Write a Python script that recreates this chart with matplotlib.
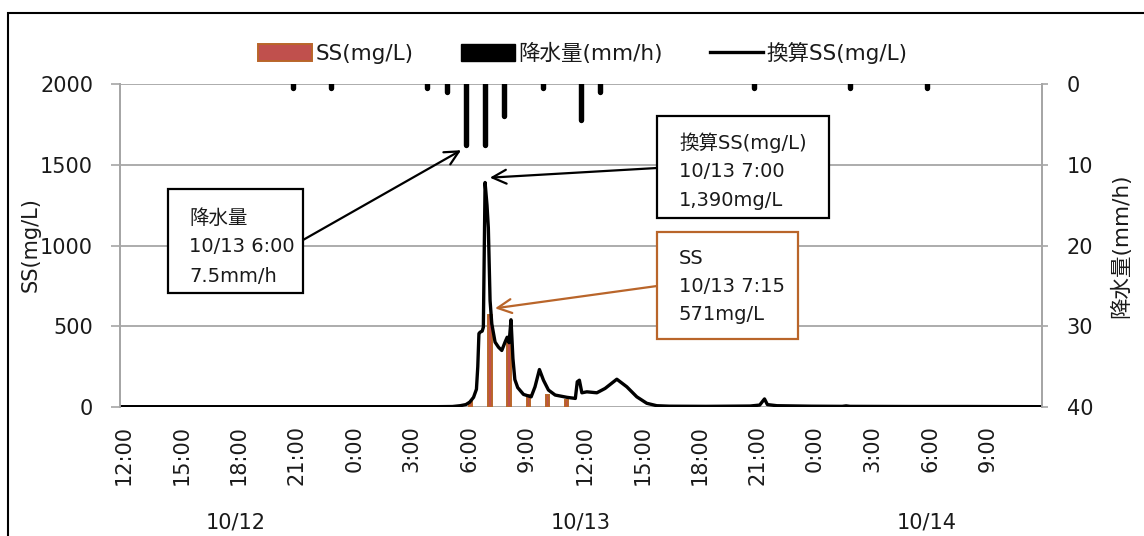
import matplotlib
matplotlib.use('Agg')
import matplotlib.pyplot as plt
from matplotlib.patches import Rectangle, Patch
from matplotlib.transforms import ScaledTranslation, blended_transform_factory

plt.rcParams['font.family'] = ['DejaVu Sans', 'Noto Sans CJK JP']

# ---------------- data (hours after 10/12 12:00) ----------------
tick_hours = list(range(0, 46, 3))
tick_labels = ['12:00', '15:00', '18:00', '21:00', '0:00', '3:00', '6:00', '9:00',
               '12:00', '15:00', '18:00', '21:00', '0:00', '3:00', '6:00', '9:00']
date_labels = ['10/12', '10/13', '10/14']
date_label_hours = [6, 24, 42]

rain_hours = [9, 11, 16, 17, 18, 19, 20, 22, 24, 25, 33, 38, 42]
rain_mm = [0.5, 0.5, 0.5, 1.0, 7.5, 7.5, 4.0, 0.5, 4.5, 1.0, 0.5, 0.5, 0.5]

ss_hours = [18.25, 19.25, 20.25, 21.25, 22.25, 23.25]
ss_mgL = [30, 571, 400, 72, 75, 45]

conv_hours = [0, 16.5, 17.3, 17.7, 18.0, 18.2, 18.4, 18.55, 18.62, 18.68, 18.74, 18.85,
              18.91, 19.0, 19.1, 19.17, 19.26, 19.35, 19.52, 19.7, 19.87, 20.04, 20.15,
              20.25, 20.35, 20.45, 20.55, 20.7, 21.0, 21.4, 21.6, 21.83, 22.04, 22.3,
              22.65, 23.26, 23.7, 23.8, 23.91, 24.04, 24.3, 24.82, 25.25, 25.86, 26.38,
              26.9, 27.42, 27.94, 28.6, 30.5, 32.8, 33.3, 33.45, 33.55, 33.7, 34.2, 36.0,
              37.6, 37.8, 38.0, 41.0, 44.0, 48.0]
conv_mgL = [2, 2, 3, 8, 15, 30, 60, 110, 250, 455, 463, 470,
            494, 1390, 1250, 1109, 658, 515, 402, 370, 350, 402, 432,
            398, 540, 300, 170, 120, 78, 63, 125, 232, 166, 105,
            74, 60, 53, 156, 166, 88, 94, 88, 115, 172, 125,
            63, 23, 8, 5, 4, 6, 12, 35, 50, 15, 8, 5,
            4, 7, 4, 3, 3, 2]

# ---------------- style ----------------
GRID = '#A6A6A6'
TEXT = '#1A1A1A'
SS_FACE = '#C0504D'
SS_EDGE = '#B9652A'
FS = 15

W, H = 1144, 536
fig = plt.figure(figsize=(W / 100, H / 100), dpi=100)


def fx(x):
    return x / W


def fy(y):
    return 1 - y / H


ax = fig.add_axes([fx(120.2), fy(407), fx(1042) - fx(120.2), fy(84) - fy(407)])
ax2 = ax.twinx()

# SS bars and converted SS line
ss_bars = ax.bar(ss_hours, ss_mgL, width=0.17, color=SS_FACE, edgecolor=SS_EDGE,
                 linewidth=1.4, zorder=2)
conv_line, = ax.plot(conv_hours, conv_mgL, color='black', lw=2.4, zorder=3,
                     solid_joinstyle='round')
# rainfall bars (inverted right axis), drawn as thick rounded strokes
rain = ax2.vlines(rain_hours, 0, rain_mm, colors='black', lw=3.9, zorder=2)
rain.set_capstyle('round')
rain_handle = Patch(facecolor='black', edgecolor='black')

ax.set_xlim(0, 48)
ax.set_ylim(0, 2000)
ax.set_yticks(range(0, 2001, 500))
ax.yaxis.grid(True, color=GRID, lw=1.3)
ax.set_axisbelow(True)
ax.set_xticks(tick_hours)
ax.set_xticklabels(tick_labels)
ax.tick_params(axis='x', length=0, pad=13, labelsize=FS, labelrotation=90,
               labelcolor=TEXT)
ax.tick_params(axis='y', length=6.5, width=1.2, color=GRID, pad=13, labelsize=FS,
               labelcolor=TEXT)

ax2.set_ylim(40, 0)
ax2.set_yticks(range(0, 41, 10))
ax2.tick_params(axis='y', length=4.3, width=1.2, color=GRID, pad=13.5, labelsize=FS,
                labelcolor=TEXT)

for a in (ax, ax2):
    for s in ('top', 'bottom'):
        a.spines[s].set_visible(False)
    for s in ('left', 'right'):
        a.spines[s].set_color(GRID)
        a.spines[s].set_linewidth(1.3)

off = ScaledTranslation(3.5 / 100, 0, fig.dpi_scale_trans)
for lab in ax.get_xticklabels():
    lab.set_transform(lab.get_transform() + off)

# date labels
trans = blended_transform_factory(ax.transData, fig.transFigure)
for h, lab in zip(date_label_hours, date_labels):
    ax.text(h, fy(522), lab, transform=trans, ha='center', va='center',
            fontsize=FS, color=TEXT, clip_on=False)

# axis titles
fig.text(fx(31), fy(245), 'SS(mg/L)', rotation=90, ha='center', va='center',
         fontsize=FS, color=TEXT)
fig.text(fx(1121), fy(246), '降水量(mm/h)', rotation=90, ha='center', va='center',
         fontsize=FS + 0.5, color=TEXT)

# legend
fig.legend(handles=[ss_bars, rain_handle, conv_line],
           labels=['SS(mg/L)', '降水量(mm/h)', '換算SS(mg/L)'],
           loc='center', bbox_to_anchor=(fx(583), fy(53)), ncol=3, frameon=False,
           fontsize=FS + 0.5, handlelength=2.5, handleheight=0.77, handletextpad=0.15,
           columnspacing=2.2, labelcolor=TEXT)

# annotation boxes
boxes = [
    (168, 189, 303, 293, 'black', 189, ['降水量', '10/13 6:00', '7.5mm/h'], [218, 247, 276]),
    (657, 116, 829, 218, 'black', 679, ['換算SS(mg/L)', '10/13 7:00', '1,390mg/L'], [143, 172, 200]),
    (657, 232, 798, 339, SS_EDGE, 679, ['SS', '10/13 7:15', '571mg/L'], [258, 287, 315]),
]
for x0, y0, x1, y1, ec, tx, lines, ys in boxes:
    fig.add_artist(Rectangle((fx(x0), fy(y1)), fx(x1) - fx(x0), fy(y0) - fy(y1),
                             transform=fig.transFigure, facecolor='white',
                             edgecolor=ec, lw=1.6, zorder=5))
    for line, yy in zip(lines, ys):
        fig.text(fx(tx), fy(yy), line, ha='left', va='center', fontsize=14,
                 color=TEXT, zorder=6)

arrow_kw = dict(arrowstyle='->,head_length=0.5,head_width=0.25', lw=1.6,
                shrinkA=0, shrinkB=0, mutation_scale=20)
ax.annotate('', xy=(rain_hours[4] - 0.25, rain_mm[4] + 0.7), xycoords=ax2.transData,
            xytext=(303, H - 240), textcoords='figure pixels',
            arrowprops=dict(color='black', **arrow_kw), annotation_clip=False)
ax.annotate('', xy=(19.0 + 0.25, 1390 + 30), xycoords='data',
            xytext=(657, H - 168), textcoords='figure pixels',
            arrowprops=dict(color='black', **arrow_kw), annotation_clip=False)
ax.annotate('', xy=(ss_hours[1] + 0.27, ss_mgL[1] + 40), xycoords='data',
            xytext=(657, H - 286), textcoords='figure pixels',
            arrowprops=dict(color=SS_EDGE, **arrow_kw), annotation_clip=False)

# outer frame
fig.add_artist(Rectangle((fx(8), -0.1), 1.5, fy(13) + 0.1, transform=fig.transFigure,
                         fill=False, edgecolor='black', lw=1.5, clip_on=False))

fig.savefig('out.png', dpi=100)
